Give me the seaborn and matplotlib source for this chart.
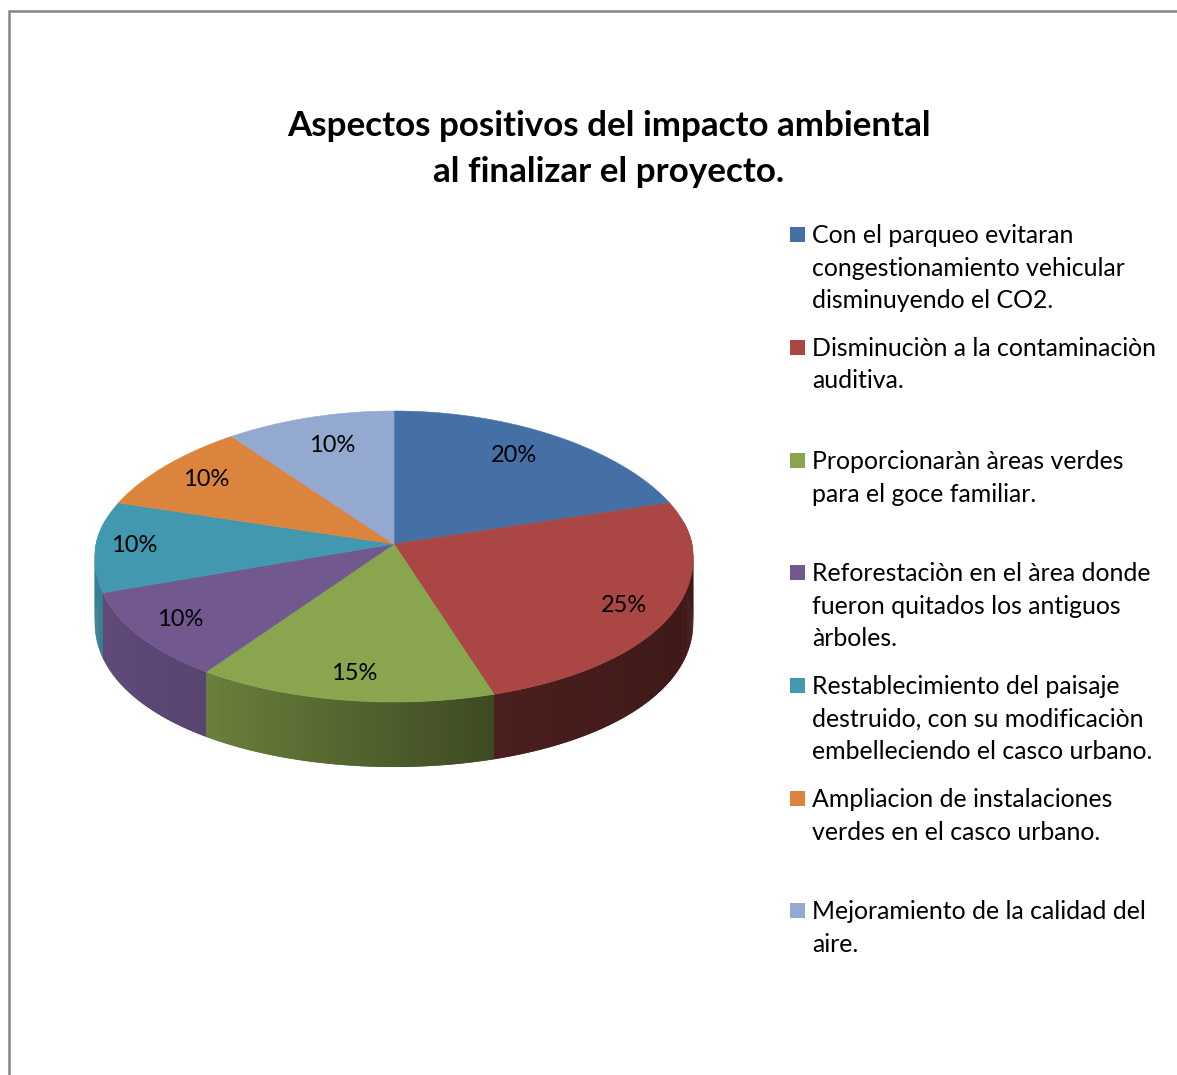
# Pastel 3D: aspectos positivos del impacto ambiental
import numpy as np
import matplotlib.pyplot as plt
import seaborn as sns
from matplotlib.patches import Rectangle

sns.set_theme(style="white")
plt.rcParams['font.family'] = ['Lato', 'DejaVu Sans']

titulo = "Aspectos positivos del impacto ambiental\nal finalizar el proyecto."
porcentajes = [20, 25, 15, 10, 10, 10, 10]
colores = ['#4570A6', '#AA4643', '#89A54E', '#71588F', '#4198AF', '#DB843D', '#93A9CF']
leyenda = [
    ["Con el parqueo evitaran", "congestionamiento vehicular", "disminuyendo el CO2."],
    ["Disminuciòn a la contaminaciòn", "auditiva."],
    ["Proporcionaràn àreas verdes", "para el goce familiar."],
    ["Reforestaciòn en el àrea donde", "fueron quitados los antiguos", "àrboles."],
    ["Restablecimiento del paisaje", "destruido, con su modificaciòn", "embelleciendo el casco urbano."],
    ["Ampliacion de instalaciones", "verdes en el casco urbano."],
    ["Mejoramiento de la calidad del", "aire."],
]

# posiciones (en pixeles de la figura)
pos_etiquetas = [(514, 456), (624, 606), (354, 674), (180, 620), (134, 546), (206, 480), (332, 446)]
pos_leyenda = [234, 347, 460, 572, 685, 798, 910]
cx, cy, rx, ry_atras, ry_frente, prof = 394, 544, 298, 133, 158, 65
persp = 0.09

paleta = sns.color_palette(colores)


def elipse(t):
    # angulo en radianes, horario desde arriba, con algo de perspectiva
    x = cx + rx * np.sin(t) * (1 - persp * np.cos(t))
    ry = np.where(np.cos(t) > 0, ry_atras, ry_frente)
    y = cy - ry * np.cos(t)
    return x, y


def sombra(t):
    return np.interp(np.sin(t), [-1, -0.6, 0.33, 1], [0.85, 0.78, 0.44, 0.36])


fig = plt.figure(figsize=(11.77, 10.75), dpi=100)
ax = fig.add_axes([0, 0, 1, 1])
ax.set_xlim(0, 1177)
ax.set_ylim(1075, 0)
ax.axis('off')

# marco del grafico
ax.plot([9, 9, 1177], [1075, 11, 11], color='#868686', lw=1.8, solid_joinstyle='miter')

fracciones = np.array(porcentajes) / sum(porcentajes)
limites = np.concatenate([[0], np.cumsum(fracciones)]) * 2 * np.pi

# pared lateral: tiras solapadas para que no se vean las juntas
for ini, fin, color in zip(limites[:-1], limites[1:], paleta):
    a = max(ini, np.radians(80))
    b = min(fin, np.radians(280))
    if a >= b:
        continue
    ts = np.linspace(a, b, int(np.degrees(b - a) * 2) + 2)
    paso = ts[1] - ts[0]
    for t0 in ts[:-1]:
        x0, y0 = elipse(t0)
        x1, y1 = elipse(t0 + 2 * paso)
        tono = tuple(np.array(color) * sombra(t0 + paso / 2))
        ax.fill([x0, x1, x1, x0], [y0, y1, y1 + prof, y0 + prof],
                color=tono, lw=0, zorder=2)

# cara superior
for ini, fin, color in zip(limites[:-1], limites[1:], paleta):
    ts = np.linspace(ini, fin, 120)
    x, y = elipse(ts)
    ax.fill(np.r_[cx, x], np.r_[cy, y], color=color, lw=0.4, zorder=3)

for p, (x, y) in zip(porcentajes, pos_etiquetas):
    ax.text(x, y, f"{p}%", ha='center', va='center', fontsize=17, color='black', zorder=4)

ax.text(609, 126, titulo.split("\n")[0], ha='center', va='center', fontsize=25.2, fontweight='bold', color='black')
ax.text(609, 172, titulo.split("\n")[1], ha='center', va='center', fontsize=25.2, fontweight='bold', color='black')

for lineas, y0, color in zip(leyenda, pos_leyenda, paleta):
    ax.add_patch(Rectangle((790, y0 - 7.5), 15, 15, color=color, lw=0))
    for i, linea in enumerate(lineas):
        ax.text(812, y0 + 1.5 + i * 32.5, linea, ha='left', va='center', fontsize=17.9, color='black')

fig.savefig('out.png', dpi=100)
